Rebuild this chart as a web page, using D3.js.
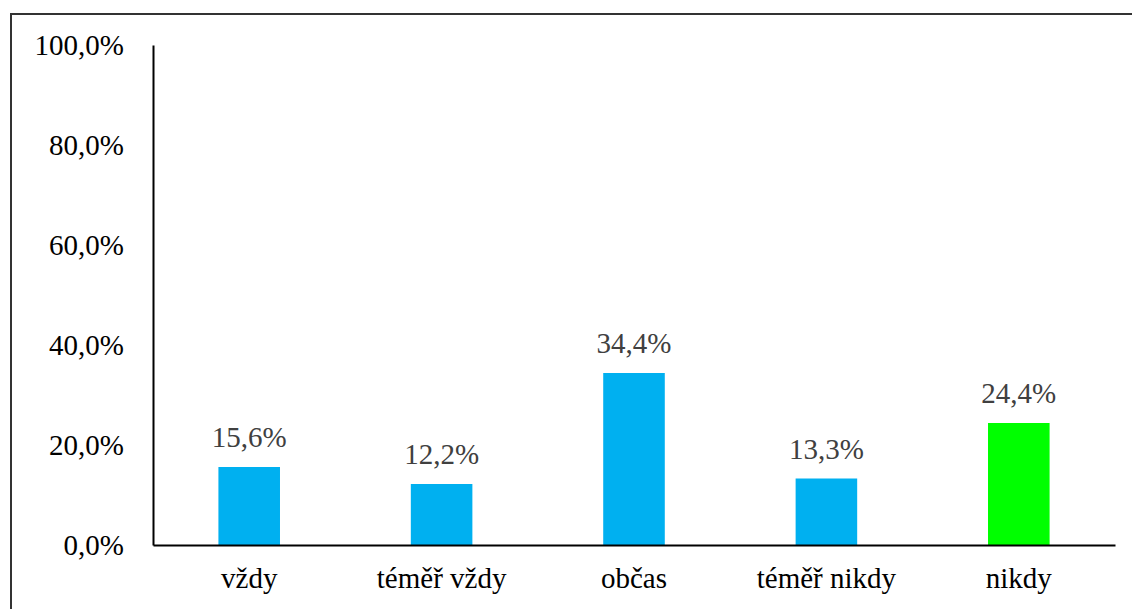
<!DOCTYPE html>
<html>
<head>
<meta charset="utf-8">
<script src="https://cdn.jsdelivr.net/npm/d3@7"></script>
<style>
  body { margin: 0; background: #fff; }
  svg text { font-family: "Liberation Serif", "Times New Roman", Times, "DejaVu Serif", serif !important; }
</style>
</head>
<body>
<script>
var categories = ["vždy", "téměř vždy", "občas", "téměř nikdy", "nikdy"];
var values = [15.6, 12.2, 34.4, 13.3, 24.4];
var barColors = ["#00B0F0", "#00B0F0", "#00B0F0", "#00B0F0", "#00FF00"];
var yTicks = [0, 20, 40, 60, 80, 100];

var w = 1132;
var h = 609;
var plotLeft = 153, plotRight = 1115, plotTop = 45, plotBottom = 545;

var svg = d3.select("body").append("svg")
    .attr("width", w)
    .attr("height", h);

// outer frame (runs off right and bottom edges)
svg.append("rect")
   .attr("x", 11).attr("y", 14)
   .attr("width", 1140).attr("height", 620)
   .attr("fill", "none")
   .attr("stroke", "#333")
   .attr("stroke-width", 2);

var x = d3.scaleBand()
    .domain(categories)
    .range([plotLeft, plotRight])
    .paddingInner(0.68)
    .paddingOuter(0.34);

var y = d3.scaleLinear()
    .domain([0, 100])
    .range([plotBottom, plotTop]);

svg.selectAll("rect.bar")
   .data(values)
   .enter()
   .append("rect")
   .attr("class", "bar")
   .attr("x", function(d, i) { return x(categories[i]); })
   .attr("y", function(d) { return y(d); })
   .attr("width", x.bandwidth())
   .attr("height", function(d) { return plotBottom - y(d); })
   .attr("fill", function(d, i) { return barColors[i]; });

function pct(d) { return d.toFixed(1).replace(".", ",") + "%"; }

// y axis
var yAxis = svg.append("g")
    .attr("transform", "translate(" + plotLeft + ",0)")
    .call(d3.axisLeft(y).tickValues(yTicks).tickSize(0).tickPadding(29).tickFormat(pct));
yAxis.select(".domain").attr("stroke", "#000").attr("stroke-width", 2);
yAxis.selectAll("text")
    .attr("font-size", "29px")
    .attr("fill", "#000");

// x axis
var xAxis = svg.append("g")
    .attr("transform", "translate(0," + plotBottom + ")")
    .call(d3.axisBottom(x).tickSize(0).tickPadding(22));
xAxis.select(".domain").attr("stroke", "#000").attr("stroke-width", 2);
xAxis.selectAll("text")
    .attr("font-size", "29px")
    .attr("fill", "#000");

// value labels
svg.selectAll("text.val")
   .data(values)
   .enter()
   .append("text")
   .attr("class", "val")
   .text(pct)
   .attr("x", function(d, i) { return x(categories[i]) + x.bandwidth() / 2; })
   .attr("y", function(d) { return y(d) - 20; })
   .attr("font-size", "29px")
   .attr("fill", "#404040")
   .attr("text-anchor", "middle");
</script>
</body>
</html>
